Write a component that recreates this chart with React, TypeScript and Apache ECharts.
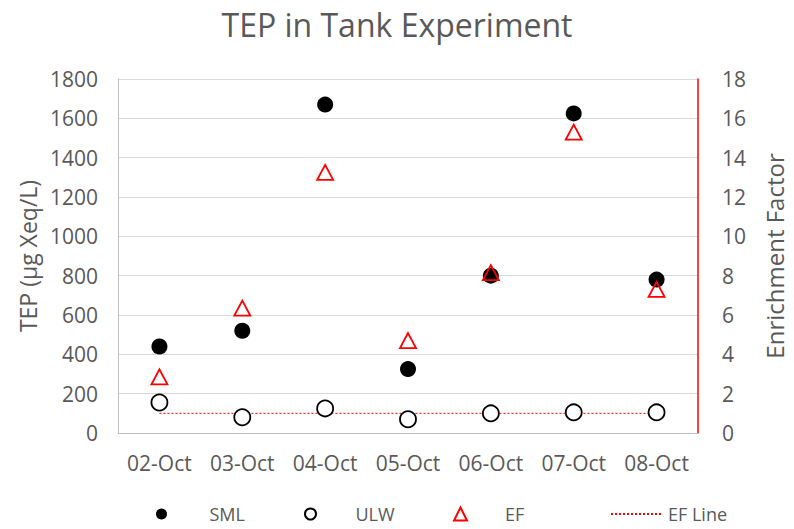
import React, { useEffect, useRef } from "react";
import * as echarts from "echarts";

const categories = ["02-Oct", "03-Oct", "04-Oct", "05-Oct", "06-Oct", "07-Oct", "08-Oct"];
const smlValues = [440, 520, 1670, 325, 800, 1625, 780];
const ulwValues = [155, 80, 125, 70, 100, 105, 105];
const efValues = [2.85, 6.35, 13.25, 4.7, 8.15, 15.3, 7.3];
const efLineValues = [1, 1, 1, 1, 1, 1, 1];

const FONT = "Open Sans";
const GREY = "#595959";

export default function App() {
  const ref = useRef<HTMLDivElement>(null);
  useEffect(() => {
    if (!ref.current) return;
    const chart = echarts.init(ref.current, undefined, { renderer: "svg", width: 794, height: 529 });
    const legendText = { color: GREY, fontSize: 18, fontFamily: FONT };
    const legendBase = {
      top: 500,
      itemHeight: 11,
      selectedMode: false,
    };
    chart.setOption({
      animation: false,
      textStyle: { fontFamily: FONT },
      title: {
        text: "TEP in Tank Experiment",
        left: "center",
        top: 3,
        textStyle: { color: GREY, fontSize: 32, fontWeight: "normal", fontFamily: FONT },
      },
      grid: { left: 118, top: 79, width: 590, height: 354 },
      legend: [
        { ...legendBase, left: 151, itemWidth: 12, data: ["SML"], textStyle: { ...legendText, padding: [0, 0, 0, 37] } },
        { ...legendBase, left: 299, itemWidth: 12, data: ["ULW"], textStyle: { ...legendText, padding: [0, 0, 0, 34] } },
        { ...legendBase, left: 448, itemWidth: 13, itemHeight: 13, data: ["EF"], textStyle: { ...legendText, padding: [0, 0, 0, 33] } },
        { ...legendBase, left: 605, itemWidth: 52, data: ["EF Line"], itemStyle: { opacity: 0 }, textStyle: legendText },
      ],
      xAxis: {
        type: "category",
        data: categories,
        boundaryGap: true,
        axisLine: { show: true, lineStyle: { color: "#bfbfbf", width: 1 } },
        axisTick: { show: false },
        axisLabel: { color: GREY, fontSize: 21, margin: 19, interval: 0, fontFamily: FONT },
      },
      yAxis: [
        {
          type: "value",
          min: 0,
          max: 1800,
          interval: 200,
          name: "TEP (µg Xeq/L)",
          nameLocation: "middle",
          nameGap: 78,
          nameTextStyle: { color: GREY, fontSize: 23, fontFamily: FONT },
          axisLine: { show: true, lineStyle: { color: "#bfbfbf", width: 1 } },
          axisTick: { show: false },
          axisLabel: { color: GREY, fontSize: 21, margin: 20, fontFamily: FONT, formatter: (v: number) => String(v) },
          splitLine: { show: true, lineStyle: { color: "#d9d9d9", width: 1 } },
        },
        {
          type: "value",
          min: 0,
          max: 18,
          interval: 2,
          position: "right",
          name: "Enrichment Factor",
          nameLocation: "middle",
          nameGap: 64,
          nameTextStyle: { color: GREY, fontSize: 24, fontFamily: FONT },
          axisLine: { show: true, lineStyle: { color: "#ff0000", width: 1.5 } },
          axisTick: { show: false },
          axisLabel: { color: GREY, fontSize: 21, margin: 24, fontFamily: FONT },
          splitLine: { show: false },
        },
      ],
      series: [
        {
          name: "EF Line",
          type: "line",
          yAxisIndex: 1,
          data: efLineValues,
          symbol: "none",
          z: 1,
          lineStyle: { color: "#ff0000", width: 1, type: [2, 2] },
          itemStyle: { color: "#ff0000" },
        },
        {
          name: "SML",
          type: "scatter",
          yAxisIndex: 0,
          data: smlValues,
          symbol: "circle",
          symbolSize: 16,
          z: 3,
          itemStyle: { color: "#000000", opacity: 1 },
        },
        {
          name: "ULW",
          type: "scatter",
          yAxisIndex: 0,
          data: ulwValues,
          symbol: "circle",
          symbolSize: 16,
          z: 3,
          itemStyle: { color: "#ffffff", borderColor: "#000000", borderWidth: 1.8, opacity: 1 },
        },
        {
          name: "EF",
          type: "scatter",
          yAxisIndex: 1,
          data: efValues,
          symbol: "triangle",
          symbolSize: [16, 15],
          z: 4,
          itemStyle: { color: "rgba(255,255,255,0)", borderColor: "#ff0000", borderWidth: 1.8, opacity: 1 },
        },
      ],
    });
    return () => chart.dispose();
  }, []);
  return (
    <div
      ref={ref}
      style={{ position: "fixed", left: 0, top: 0, width: 794, height: 529, background: "#fff" }}
    />
  );
}
